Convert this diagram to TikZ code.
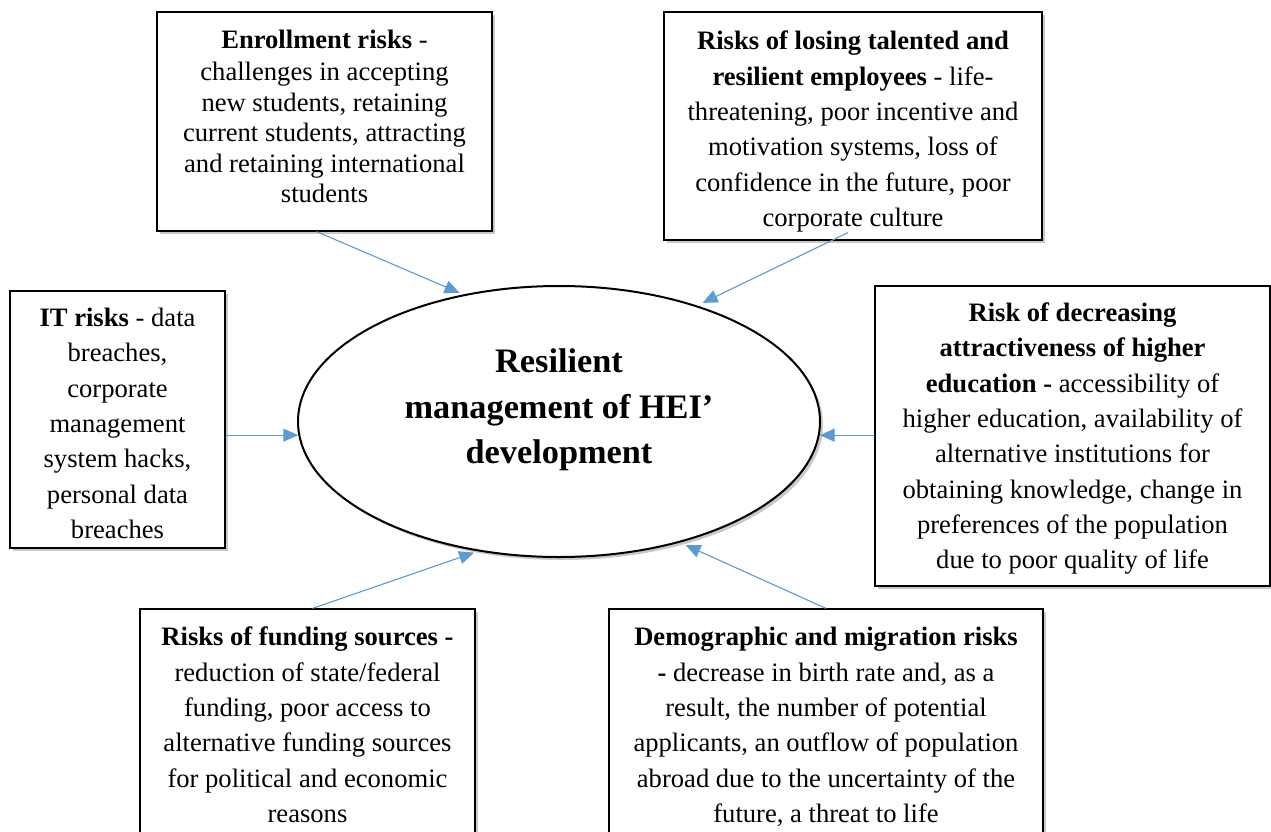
\documentclass[tikz,border=0pt]{standalone}
\usepackage{fontspec}
\setmainfont{Liberation Serif}
\usetikzlibrary{arrows.meta,shadows,shapes.geometric}
\definecolor{arrblue}{HTML}{5B9BD5}
\newcommand\bxt[2]{\raisebox{#1}[\height][\depth]{\begin{tabular}{@{}c@{}}#2\end{tabular}}}
\tikzset{
  riskbox/.style={draw=black, line width=1.2pt, fill=white, rectangle, align=center,
    inner sep=0pt, font=\fontsize{26.6pt}{35.3pt}\selectfont,
    drop shadow={shadow xshift=3pt, shadow yshift=-3pt, opacity=0.3, fill=black!70}},
  centre/.style={draw=black, line width=2pt, fill=white, ellipse, inner sep=0pt,
    drop shadow={shadow xshift=3pt, shadow yshift=-3pt, opacity=0.3, fill=black!70}},
  arr/.style={draw=arrblue, line width=1.1pt, -{Triangle[length=15pt,width=13pt]}}
}
\begin{document}
\begin{tikzpicture}[x=1pt,y=-1pt]
\useasboundingbox (0,0) rectangle (1271,832);
\fill[white] (0,0) rectangle (1271,832);

\node[centre, minimum width=522pt, minimum height=271pt] (e) at (559,421.5) {};
\node[align=center, font=\fontsize{34.3pt}{45.5pt}\selectfont\bfseries] (title) at (559,410)
  {Resilient\\management of HEI’\\development};

\node[riskbox, minimum width=335pt, minimum height=219pt, font=\fontsize{26.6pt}{30.5pt}\selectfont] (b1) at (324.5,121.5)
  {\bxt{2pt}{\textbf{Enrollment risks} -\\[1.5pt]challenges in accepting\\new students, retaining\\current students, attracting\\and retaining international\\students}};

\node[riskbox, minimum width=378pt, minimum height=228pt] (b2) at (853,126)
  {\bxt{-5pt}{\textbf{Risks of losing talented and}\\\textbf{resilient employees} - life-\\threatening, poor incentive and\\motivation systems, loss of\\confidence in the future, poor\\corporate culture}};

\node[riskbox, minimum width=215pt, minimum height=257pt] (b3) at (117.5,419.5)
  {\bxt{-6pt}{\textbf{IT risks} - data\\breaches,\\corporate\\management\\system hacks,\\personal data\\breaches}};

\node[riskbox, minimum width=395pt, minimum height=300pt] (b4) at (1072.5,436)
  {\bxt{-2pt}{\textbf{Risk of decreasing}\\\textbf{attractiveness of higher}\\\textbf{education -} accessibility of\\higher education, availability of\\alternative institutions for\\obtaining knowledge, change in\\preferences of the population\\due to poor quality of life}};

\node[riskbox, minimum width=335pt, minimum height=230pt] (b5) at (307.5,724)
  {\bxt{-3pt}{\textbf{Risks of funding sources -}\\reduction of state/federal\\funding, poor access to\\alternative funding sources\\for political and economic\\reasons}};

\node[riskbox, minimum width=434pt, minimum height=230pt] (b6) at (826,724)
  {\bxt{-3pt}{\textbf{Demographic and migration risks}\\\textbf{-} decrease in birth rate and, as a\\result, the number of potential\\applicants, an outflow of population\\abroad due to the uncertainty of the\\future, a threat to life}};

\draw[arr, shorten >=4pt] ([xshift=-8pt]b1.south) -- (e.127);
\draw[arr, shorten >=6pt] ([xshift=-5pt,yshift=8pt]b2.south) -- (e.40);
\draw[arr] (b3.east |- e.183) -- (e.183);
\draw[arr] (b4.west |- e.-3) -- (e.-3);
\draw[arr, shorten >=4pt] ([xshift=5pt]b5.north) -- (e.238);
\draw[arr, shorten >=6pt] (b6.north) -- (e.-45);
\end{tikzpicture}
\end{document}
